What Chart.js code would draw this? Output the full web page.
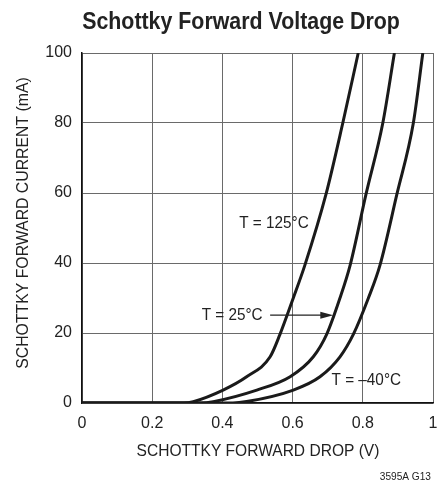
<!DOCTYPE html>
<html>
<head>
<meta charset="utf-8">
<script src="https://cdn.jsdelivr.net/npm/chart.js@4"></script>
<style>
  html, body { margin: 0; padding: 0; background: #fff; }
  #wrap { width: 439px; height: 484px; }
</style>
</head>
<body>
<div id="wrap"><canvas id="chart" width="439" height="484"></canvas></div>
<script>
// values (V, mA)
var xTicks = [0, 0.2, 0.4, 0.6, 0.8, 1];
var yTicks = [0, 20, 40, 60, 80, 100];

var currentMA = [0, 0, 0.4, 3.7, 7.5, 13.2, 19.6, 30, 39.4, 59.6, 80, 100];
var hotV  = [0, 0.29, 0.317, 0.402, 0.469, 0.536, 0.564, 0.602, 0.635, 0.695, 0.743, 0.787];
var roomV = [0, 0.34, 0.374, 0.498, 0.593, 0.659, 0.697, 0.735, 0.764, 0.809, 0.857, 0.890];
var coldV = [0, 0.43, 0.469, 0.602, 0.678, 0.735, 0.773, 0.816, 0.849, 0.897, 0.944, 0.971];

var FONT = '"Liberation Sans", Arial, sans-serif';

function pts(xs, ys) {
    return xs.map(function (v, i) { return { x: v, y: ys[i] }; });
}

function curve(label, xs) {
    return {
        label: label,
        data: pts(xs, currentMA),
        showLine: true,
        borderColor: '#1a1a1a',
        borderWidth: 3,
        pointRadius: 0,
        cubicInterpolationMode: 'monotone',
        fill: false
    };
}

// narrow text, the datasheet uses a condensed face
function narrowText(ctx, txt, x, y, sx) {
    ctx.save();
    ctx.translate(x, y);
    ctx.scale(sx, 1);
    ctx.fillText(txt, 0, 0);
    ctx.restore();
}

var textPlugin = {
    id: 'texts',
    afterDraw: function (chart) {
        var ctx = chart.ctx;
        var xs = chart.scales.x, ys = chart.scales.y;
        ctx.save();
        ctx.fillStyle = '#222';
        ctx.textBaseline = 'middle';

        // title
        ctx.font = 'bold 24px ' + FONT;
        ctx.textAlign = 'center';
        narrowText(ctx, 'Schottky Forward Voltage Drop', 241, 22, 0.89);

        // axis titles
        ctx.font = '17px ' + FONT;
        narrowText(ctx, 'SCHOTTKY FORWARD DROP (V)', 258, 451, 0.915);
        ctx.save();
        ctx.translate(23, 223);
        ctx.rotate(-Math.PI / 2);
        narrowText(ctx, 'SCHOTTKY FORWARD CURRENT (mA)', 0, 0, 0.93);
        ctx.restore();

        ctx.font = '11px ' + FONT;
        ctx.textAlign = 'right';
        narrowText(ctx, '3595A G13', 431, 477, 0.92);

        // curve labels
        ctx.font = '17px ' + FONT;
        ctx.textAlign = 'center';
        narrowText(ctx, 'T = 125\u00B0C', xs.getPixelForValue(0.547), ys.getPixelForValue(51.3), 0.9);
        narrowText(ctx, 'T = \u201340\u00B0C', xs.getPixelForValue(0.81), ys.getPixelForValue(6.6), 0.9);
        ctx.textAlign = 'left';
        narrowText(ctx, 'T = 25\u00B0C', xs.getPixelForValue(0.341), ys.getPixelForValue(25.1), 0.9);

        // arrow to 25C curve
        var ay = ys.getPixelForValue(25.1);
        var ax0 = xs.getPixelForValue(0.536), ax1 = xs.getPixelForValue(0.716);
        ctx.strokeStyle = '#222';
        ctx.lineWidth = 1.2;
        ctx.beginPath();
        ctx.moveTo(ax0, ay);
        ctx.lineTo(ax1 - 8, ay);
        ctx.stroke();
        ctx.beginPath();
        ctx.moveTo(ax1, ay);
        ctx.lineTo(ax1 - 13, ay - 3.5);
        ctx.lineTo(ax1 - 13, ay + 3.5);
        ctx.closePath();
        ctx.fill();
        ctx.restore();
    }
};

new Chart(document.getElementById('chart'), {
    type: 'scatter',
    data: {
        datasets: [
            curve('T = 125°C', hotV),
            curve('T = 25°C', roomV),
            curve('T = -40°C', coldV)
        ]
    },
    options: {
        responsive: false,
        animation: false,
        layout: { padding: { top: 53, right: 0, left: 0, bottom: 0 } },
        plugins: {
            legend: { display: false },
            title: { display: false },
            tooltip: { enabled: false }
        },
        scales: {
            x: {
                type: 'linear',
                min: 0, max: 1,
                afterFit: function (s) { s.height = 81; s.paddingRight = 6; },
                afterBuildTicks: function (s) { s.ticks = xTicks.map(function (v) { return { value: v }; }); },
                grid: { color: '#6a6a6a', lineWidth: 1, drawTicks: false },
                border: { color: '#111', width: 1.5 },
                ticks: {
                    color: '#222',
                    padding: 11,
                    font: { family: FONT, size: 16 },
                    callback: function (v) { return String(v); }
                }
            },
            y: {
                type: 'linear',
                min: 0, max: 100,
                afterFit: function (s) { s.width = 82; },
                afterBuildTicks: function (s) { s.ticks = yTicks.map(function (v) { return { value: v }; }); },
                grid: { color: '#6a6a6a', lineWidth: 1, drawTicks: false },
                border: { color: '#111', width: 1.5 },
                ticks: {
                    color: '#222',
                    padding: 10,
                    font: { family: FONT, size: 16 }
                }
            }
        }
    },
    plugins: [textPlugin]
});
</script>
</body>
</html>
